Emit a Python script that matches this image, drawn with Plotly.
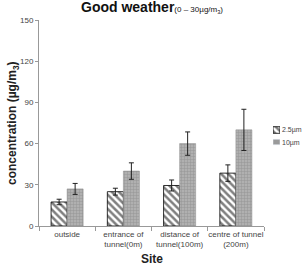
import plotly.graph_objects as go

sites = ["outside", "entrance of<br>tunnel(0m)", "distance of<br>tunnel(100m)", "centre of tunnel<br>(200m)"]
pm25 = [17.5, 25, 29.5, 38.5]
pm25_err = [2, 2.5, 4, 6]
pm10 = [27, 40, 60, 70]
pm10_err = [4, 6, 8.5, 15]
y_ticks = [0, 30, 60, 90, 120, 150]
series_names = ["2.5µm", "10µm"]

FONT = "Liberation Sans, Arial, sans-serif"
W, H = 304, 267

def px(x):
    return x / W

def py(y):
    return (H - y) / H

m25 = dict(color="white", line=dict(color="black", width=0.8),
           pattern=dict(shape="\\", fgcolor="black", bgcolor="white", size=5, solidity=0.5))
m10 = dict(color="#a0a0a0", line=dict(color="#8a8a8a", width=0.5),
           pattern=dict(shape="+", fgcolor="#7a7a7a", bgcolor="#b0b0b0", size=3, solidity=0.3))

fig = go.Figure()
fig.add_trace(go.Bar(
    x=sites, y=pm25, name=series_names[0], marker=m25,
    error_y=dict(type="data", array=pm25_err, color="#222", thickness=1, width=2.5),
))
fig.add_trace(go.Bar(
    x=sites, y=pm10, name=series_names[1], marker=m10,
    error_y=dict(type="data", array=pm10_err, color="#222", thickness=1, width=2.5),
))
# manual legend swatches
fig.add_trace(go.Bar(x=[1], y=[series_names[0]], orientation="h", marker=m25, width=0.55,
                     xaxis="x2", yaxis="y2", hoverinfo="skip"))
fig.add_trace(go.Bar(x=[1], y=[series_names[1]], orientation="h", marker=dict(color="#9a9a9a"),
                     width=0.45, xaxis="x2", yaxis="y2", hoverinfo="skip"))

fig.update_layout(
    width=W, height=H,
    margin=dict(l=0, r=0, t=0, b=0, autoexpand=False),
    paper_bgcolor="white", plot_bgcolor="white",
    barmode="group", bargap=0.43, bargroupgap=0,
    font=dict(family=FONT, size=8, color="#444"),
    showlegend=False,
    xaxis=dict(domain=[px(39), px(264)], showline=True, linecolor="#999", linewidth=1,
               ticks="outside", tickson="boundaries", ticklen=4, tickcolor="#999",
               tickangle=0, tickfont=dict(size=8, color="#444"), showgrid=False),
    yaxis=dict(domain=[py(226), py(20)], range=[0, 150], tickvals=y_ticks, showline=True,
               linecolor="#999", linewidth=1, ticks="outside", ticklen=3, tickcolor="#999",
               tickfont=dict(size=8, color="#444"), showgrid=False, zeroline=False),
    xaxis2=dict(domain=[px(273), px(280)], range=[0, 1], visible=False, anchor="y2"),
    yaxis2=dict(domain=[py(148), py(124)], visible=False, anchor="x2",
                categoryorder="array", categoryarray=series_names[::-1]),
    annotations=[
        dict(text="<b>Good weather</b><span style='font-size:8px'>(0 – 30µg/m<sub>3</sub>)</span>",
             xref="paper", yref="paper", x=px(152), y=py(7), xanchor="center", yanchor="middle",
             showarrow=False, font=dict(size=14, color="#111", family=FONT)),
        dict(text="<b>concentration (µg/m<sub>3</sub>)</b>", textangle=-90,
             xref="paper", yref="paper", x=px(13), y=py(123), xanchor="center", yanchor="middle",
             showarrow=False, font=dict(size=12, color="#222", family=FONT)),
        dict(text="<b>Site</b>", xref="paper", yref="paper", x=px(152), y=py(259),
             xanchor="center", yanchor="middle", showarrow=False,
             font=dict(size=12, color="#222", family=FONT)),
        dict(text=series_names[0], xref="paper", yref="paper", x=px(280), y=py(130),
             xanchor="left", yanchor="middle", showarrow=False,
             font=dict(size=7, color="#444", family=FONT)),
        dict(text=series_names[1], xref="paper", yref="paper", x=px(280), y=py(143),
             xanchor="left", yanchor="middle", showarrow=False,
             font=dict(size=7, color="#444", family=FONT)),
    ],
)

fig.write_html("out.html")
